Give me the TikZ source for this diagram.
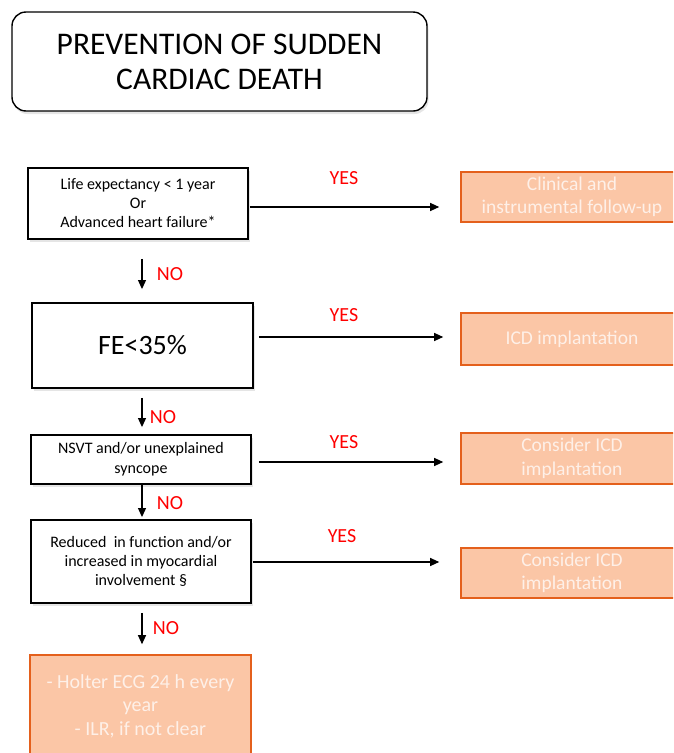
\documentclass[tikz,border=0pt]{standalone}
\usepackage{fontspec}
\setmainfont{Carlito}
\usetikzlibrary{arrows.meta,shadows,calc}
\definecolor{orfill}{HTML}{FBC6A6}
\definecolor{ordraw}{HTML}{E4601C}
\definecolor{ortext}{HTML}{FEF0E8}
\begin{document}
\begin{tikzpicture}[x=1pt,y=-1pt,
  qbox/.style={draw=black, line width=1.9pt, fill=white, inner sep=0pt, align=center,
    drop shadow={opacity=0.2, shadow xshift=1.5pt, shadow yshift=-3pt}},
  obox/.style={draw=ordraw, line width=1.6pt, fill=orfill, text=ortext, inner sep=0pt,
    align=center, font=\fontsize{19.5}{23.5}\selectfont, minimum width=222pt},
  arr/.style={line width=1.1pt, -{Triangle[length=9pt,width=8pt]}},
  lbl/.style={text=red, font=\fontsize{20}{22}\selectfont, inner sep=0pt},
  small/.style={font=\fontsize{16}{19}\selectfont}
]
\useasboundingbox (0,0) rectangle (673,753);
\clip (0,0) rectangle (673,753);
\fill[white] (0,0) rectangle (673,753);

% title
\node[qbox, line width=1.4pt, rounded corners=14pt, minimum width=415pt, minimum height=99pt,
  font=\fontsize{31.5}{35}\selectfont] (title) at (219.5,61.5) {PREVENTION OF SUDDEN\\CARDIAC DEATH};

% question boxes
\node[qbox, small, minimum width=220pt, minimum height=71pt] (b1) at (138,203.5)
  {Life expectancy < 1 year\\Or\\Advanced heart failure*};
\node[qbox, minimum width=221pt, minimum height=85pt, font=\fontsize{28}{30}\selectfont] (b2) at (142.5,345.5) {FE<35\%};
\node[qbox, font=\fontsize{16}{20}\selectfont, minimum width=220pt, minimum height=49pt] (b3) at (141,459.5)
  {NSVT and/or unexplained\\syncope};
\node[qbox, small, minimum width=220pt, minimum height=83pt] (b4) at (141,561.5)
  {Reduced\ \ in function and/or\\increased in myocardial\\involvement §};

% outcome boxes (run past the right edge of the picture)
\node[obox, minimum height=50pt] (o1) at (572,197) {Clinical and\\instrumental follow-up};
\node[obox, minimum height=52pt] (o2) at (572,339) {ICD implantation};
\node[obox, minimum height=51pt] (o3) at (572,458.5) {Consider ICD\\implantation};
\node[obox, minimum height=50pt] (o4) at (572,573) {Consider ICD\\implantation};
\node[obox, font=\fontsize{20}{23.5}\selectfont, minimum width=221pt, minimum height=102pt] (o5) at (140.5,706)
  {- Holter ECG 24 h every\\year\\- ILR, if not clear};

% helper coordinates
\coordinate (h1) at (0,207);
\coordinate (h2) at (0,337);
\coordinate (h3) at (0,462);
\coordinate (h4) at (0,562);
\coordinate (v) at (142,0);

% YES arrows
\draw[arr, shorten <=1pt, shorten >=21pt] (b1.east |- h1) -- (o1.west |- h1);
\draw[arr, shorten <=5pt, shorten >=17pt] (b2.east |- h2) -- (o2.west |- h2);
\draw[arr, shorten <=7pt, shorten >=17pt] (b3.east |- h3) -- (o3.west |- h3);
\draw[arr, shorten <=1pt, shorten >=21pt] (b4.east |- h4) -- (o4.west |- h4);

% NO arrows
\draw[arr, shorten <=19pt, shorten >=13pt] (b1.south -| v) -- (b2.north -| v);
\draw[arr, shorten <=9pt, shorten >=7pt] (b2.south -| v) -- (b3.north -| v);
\draw[arr, shorten >=2pt] (b3.south -| v) -- (b4.north -| v);
\draw[arr, shorten <=9pt, shorten >=10pt] (b4.south -| v) -- (o5.north -| v);

% labels
\node[lbl] (y1) at (344,178) {YES};
\node[lbl] (y2) at (344,315) {YES};
\node[lbl] (y3) at (344,442) {YES};
\node[lbl] (y4) at (342,536) {YES};
\node[lbl] (n1) at (170,274) {NO};
\node[lbl] (n2) at (163,417) {NO};
\node[lbl] (n3) at (170,503) {NO};
\node[lbl] (n4) at (166,628) {NO};
\end{tikzpicture}
\end{document}
